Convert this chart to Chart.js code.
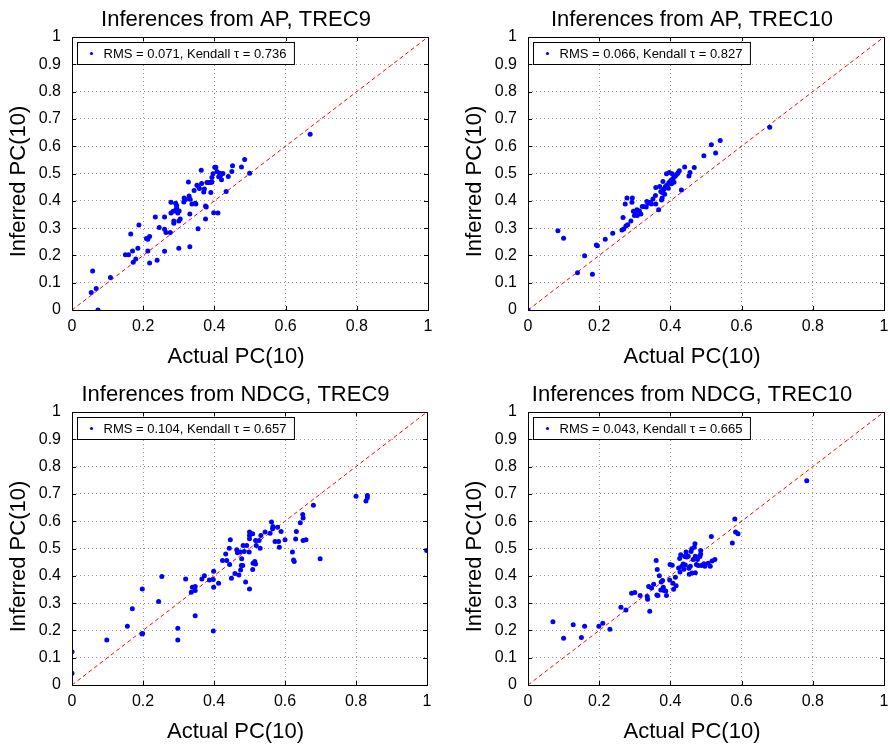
<!DOCTYPE html>
<html>
<head>
<meta charset="utf-8">
<script src="https://cdn.jsdelivr.net/npm/chart.js@4.4.0/dist/chart.umd.min.js"></script>
<style>
  body { margin: 0; background: #fff; }
  #wrap { position: relative; width: 890px; height: 745px; }
  canvas { position: absolute; }
</style>
</head>
<body>
<div id="wrap">
  <canvas id="c1" width="445" height="372" style="left:0;top:0"></canvas>
  <canvas id="c2" width="445" height="372" style="left:445px;top:0"></canvas>
  <canvas id="c3" width="445" height="373" style="left:0;top:372px"></canvas>
  <canvas id="c4" width="445" height="373" style="left:445px;top:372px"></canvas>
</div>
<script>
// textos
const titles = ['Inferences from AP, TREC9', 'Inferences from AP, TREC10', 'Inferences from NDCG, TREC9', 'Inferences from NDCG, TREC10'];
const legendLabels = ['RMS = 0.071, Kendall \u03c4 = 0.736', 'RMS = 0.066, Kendall \u03c4 = 0.827', 'RMS = 0.104, Kendall \u03c4 = 0.657', 'RMS = 0.043, Kendall \u03c4 = 0.665'];
const xTitle = 'Actual PC(10)';
const yTitle = 'Inferred PC(10)';
const xTicks = [0, 0.2, 0.4, 0.6, 0.8, 1];
const yTicks = [0, 0.1, 0.2, 0.3, 0.4, 0.5, 0.6, 0.7, 0.8, 0.9, 1];
const diagonalX = [0, 1];
const diagonalY = [0, 1];

// AP, TREC9
const apTrec9Actual = [0.058,0.054,0.068,0.073,0.108,0.150,0.159,0.165,0.170,0.172,0.179,0.185,0.188,0.209,0.213,0.218,0.213,0.218,0.234,0.239,0.245,0.260,0.260,0.260,0.264,0.276,0.278,0.278,0.284,0.286,0.286,0.289,0.291,0.294,0.294,0.297,0.301,0.300,0.304,0.300,0.314,0.315,0.319,0.327,0.329,0.331,0.332,0.331,0.337,0.343,0.346,0.348,0.354,0.351,0.355,0.358,0.363,0.364,0.370,0.372,0.375,0.377,0.375,0.379,0.384,0.390,0.390,0.393,0.393,0.396,0.398,0.401,0.404,0.407,0.410,0.412,0.415,0.417,0.420,0.424,0.433,0.439,0.449,0.451,0.476,0.485,0.499,0.669];
const apTrec9Inferred = [0.143,0.064,0.079,0.000,0.119,0.202,0.202,0.278,0.216,0.175,0.187,0.226,0.311,0.262,0.259,0.269,0.216,0.172,0.341,0.182,0.302,0.296,0.341,0.215,0.284,0.284,0.395,0.355,0.362,0.326,0.318,0.364,0.391,0.383,0.375,0.355,0.363,0.326,0.333,0.226,0.396,0.410,0.405,0.469,0.418,0.352,0.406,0.232,0.388,0.438,0.391,0.388,0.298,0.457,0.452,0.445,0.512,0.463,0.432,0.443,0.381,0.377,0.333,0.467,0.467,0.467,0.430,0.469,0.485,0.499,0.356,0.523,0.523,0.507,0.355,0.488,0.501,0.493,0.477,0.500,0.434,0.489,0.507,0.528,0.524,0.551,0.501,0.644];

// AP, TREC10
const apTrec10Actual = [0.000,0.084,0.100,0.139,0.159,0.181,0.192,0.195,0.217,0.238,0.264,0.269,0.267,0.275,0.280,0.273,0.278,0.289,0.292,0.293,0.296,0.299,0.302,0.306,0.307,0.313,0.317,0.321,0.326,0.332,0.334,0.338,0.344,0.347,0.351,0.358,0.359,0.359,0.367,0.370,0.373,0.375,0.377,0.377,0.379,0.380,0.382,0.384,0.386,0.389,0.391,0.394,0.396,0.397,0.401,0.403,0.405,0.408,0.410,0.412,0.415,0.419,0.422,0.425,0.431,0.440,0.452,0.455,0.467,0.494,0.515,0.527,0.540,0.679];
const apTrec10Inferred = [0.000,0.290,0.263,0.136,0.199,0.131,0.238,0.235,0.259,0.281,0.293,0.297,0.339,0.308,0.312,0.388,0.410,0.326,0.395,0.410,0.362,0.346,0.361,0.367,0.346,0.363,0.352,0.379,0.379,0.377,0.397,0.391,0.395,0.388,0.407,0.419,0.388,0.449,0.367,0.452,0.434,0.403,0.410,0.430,0.471,0.440,0.443,0.424,0.452,0.499,0.458,0.446,0.467,0.504,0.474,0.462,0.499,0.483,0.468,0.489,0.493,0.498,0.504,0.510,0.440,0.524,0.491,0.504,0.522,0.565,0.605,0.575,0.621,0.669];

// NDCG, TREC9
const ndcgTrec9Actual = [0.000,0.000,0.098,0.156,0.170,0.197,0.199,0.198,0.244,0.253,0.298,0.298,0.320,0.336,0.339,0.347,0.347,0.347,0.366,0.373,0.387,0.398,0.399,0.399,0.398,0.413,0.424,0.433,0.436,0.443,0.444,0.446,0.449,0.459,0.464,0.466,0.470,0.474,0.475,0.477,0.478,0.481,0.482,0.485,0.489,0.492,0.499,0.500,0.500,0.500,0.500,0.509,0.510,0.509,0.515,0.517,0.517,0.519,0.527,0.530,0.532,0.544,0.558,0.562,0.565,0.566,0.572,0.579,0.582,0.584,0.589,0.600,0.621,0.624,0.626,0.630,0.632,0.643,0.650,0.651,0.651,0.659,0.680,0.699,0.800,0.828,0.832,0.832,0.999];
const ndcgTrec9Inferred = [0.122,0.043,0.165,0.215,0.279,0.187,0.189,0.352,0.306,0.397,0.208,0.165,0.388,0.340,0.358,0.361,0.346,0.254,0.388,0.400,0.385,0.386,0.417,0.358,0.198,0.373,0.456,0.480,0.456,0.501,0.441,0.532,0.391,0.408,0.495,0.484,0.403,0.487,0.421,0.438,0.462,0.438,0.511,0.489,0.377,0.511,0.487,0.352,0.560,0.548,0.536,0.554,0.446,0.423,0.452,0.443,0.529,0.511,0.529,0.501,0.548,0.560,0.556,0.597,0.572,0.581,0.526,0.578,0.526,0.505,0.562,0.532,0.487,0.458,0.452,0.535,0.562,0.594,0.625,0.612,0.529,0.532,0.658,0.462,0.691,0.674,0.686,0.694,0.493];

// NDCG, TREC10
const ndcgTrec10Actual = [0.070,0.100,0.127,0.150,0.159,0.199,0.210,0.230,0.261,0.275,0.291,0.300,0.315,0.335,0.336,0.339,0.342,0.347,0.353,0.360,0.363,0.362,0.365,0.369,0.373,0.374,0.378,0.380,0.382,0.387,0.389,0.398,0.399,0.405,0.407,0.409,0.414,0.416,0.423,0.426,0.427,0.429,0.432,0.436,0.438,0.440,0.442,0.444,0.446,0.450,0.452,0.453,0.456,0.458,0.460,0.461,0.464,0.467,0.469,0.470,0.470,0.473,0.476,0.478,0.483,0.485,0.485,0.487,0.494,0.497,0.506,0.512,0.515,0.517,0.525,0.574,0.581,0.583,0.590,0.783];
const ndcgTrec10Inferred = [0.232,0.171,0.221,0.174,0.215,0.215,0.226,0.204,0.285,0.275,0.336,0.339,0.328,0.324,0.314,0.361,0.270,0.355,0.369,0.456,0.423,0.330,0.328,0.400,0.348,0.377,0.383,0.358,0.346,0.344,0.328,0.385,0.441,0.439,0.373,0.351,0.395,0.364,0.429,0.463,0.414,0.477,0.435,0.443,0.424,0.471,0.440,0.487,0.469,0.472,0.428,0.406,0.435,0.489,0.499,0.410,0.460,0.505,0.517,0.472,0.411,0.441,0.460,0.438,0.471,0.493,0.480,0.438,0.444,0.435,0.446,0.435,0.544,0.454,0.460,0.520,0.608,0.560,0.554,0.748];

const FONT = "'Liberation Sans', Arial, Helvetica, sans-serif";

// painéis: canvas, área do gráfico (coordenadas locais), dados
const paineis = [
  { id: 'c1', w: 445, h: 372, area: { l: 72, r: 428, t: 37, b: 310 }, xs: apTrec9Actual, ys: apTrec9Inferred },
  { id: 'c2', w: 445, h: 372, area: { l: 83, r: 439, t: 37, b: 310 }, xs: apTrec10Actual, ys: apTrec10Inferred },
  { id: 'c3', w: 445, h: 373, area: { l: 72, r: 427, t: 40, b: 313 }, xs: ndcgTrec9Actual, ys: ndcgTrec9Inferred },
  { id: 'c4', w: 445, h: 373, area: { l: 83, r: 439, t: 40, b: 313 }, xs: ndcgTrec10Actual, ys: ndcgTrec10Inferred }
];

// moldura, ticks internos, legenda e títulos (estilo MATLAB)
const decoracao = {
  id: 'decoracao',
  afterDraw(chart, args, opts) {
    const ctx = chart.ctx;
    const { left, right, top, bottom } = chart.chartArea;
    const sx = chart.scales.x, sy = chart.scales.y;
    ctx.save();
    ctx.strokeStyle = '#000';
    ctx.lineWidth = 1;
    ctx.strokeRect(Math.round(left) + 0.5, Math.round(top) + 0.5, Math.round(right - left), Math.round(bottom - top));

    ctx.beginPath();
    xTicks.forEach(v => {
      const px = Math.round(sx.getPixelForValue(v)) + 0.5;
      ctx.moveTo(px, bottom); ctx.lineTo(px, bottom - 4);
      ctx.moveTo(px, top); ctx.lineTo(px, top + 4);
    });
    yTicks.forEach(v => {
      const py = Math.round(sy.getPixelForValue(v)) + 0.5;
      ctx.moveTo(left, py); ctx.lineTo(left + 4, py);
      ctx.moveTo(right, py); ctx.lineTo(right - 4, py);
    });
    ctx.stroke();

    // legenda
    ctx.font = '13px ' + FONT;
    const tw = ctx.measureText(opts.legenda).width;
    const bx = Math.round(left) + 5.5, by = Math.round(top) + 5.5;
    ctx.fillStyle = '#fff';
    ctx.fillRect(bx, by, tw + 34, 22);
    ctx.strokeRect(bx, by, tw + 34, 22);
    ctx.fillStyle = '#0000ff';
    ctx.beginPath();
    ctx.arc(bx + 14, by + 11, 1.6, 0, Math.PI * 2);
    ctx.fill();
    ctx.fillStyle = '#000';
    ctx.textBaseline = 'middle';
    ctx.textAlign = 'left';
    ctx.fillText(opts.legenda, bx + 26, by + 11.5);

    // títulos
    const cx = (left + right) / 2 - 14;
    ctx.textBaseline = 'alphabetic';
    ctx.textAlign = 'center';
    ctx.font = '22px ' + FONT;
    ctx.fillText(opts.titulo, cx, top - 11);
    ctx.fillText(xTitle, cx, bottom + 53);
    ctx.save();
    ctx.translate(left - 47, (top + bottom) / 2 + 8);
    ctx.rotate(-Math.PI / 2);
    ctx.fillText(yTitle, 0, 0);
    ctx.restore();
    ctx.restore();
  }
};

paineis.forEach((p, i) => {
  const pontos = p.xs.map((x, k) => ({ x: x, y: p.ys[k] }));
  const diagonal = diagonalX.map((x, k) => ({ x: x, y: diagonalY[k] }));
  const corGrade = c => (c.tick && c.tick.value > 0 && c.tick.value < 1) ? '#999999' : 'rgba(0,0,0,0)';

  new Chart(document.getElementById(p.id), {
    type: 'scatter',
    data: {
      datasets: [
        { label: legendLabels[i], data: pontos, backgroundColor: '#0000ff', borderWidth: 0, pointRadius: 2.5, pointHoverRadius: 2.5 },
        { label: 'diagonal', data: diagonal, showLine: true, pointRadius: 0, borderColor: '#ff0000', borderWidth: 1, borderDash: [4, 3], fill: false }
      ]
    },
    options: {
      responsive: false,
      animation: false,
      devicePixelRatio: 1,
      events: [],
      layout: { padding: { left: 0, top: p.area.t, right: p.w - p.area.r, bottom: 0 } },
      scales: {
        x: {
          type: 'linear', min: 0, max: 1,
          afterBuildTicks: s => { s.ticks = xTicks.map(v => ({ value: v })); },
          afterFit: s => { s.height = p.h - p.area.b; s.paddingLeft = 0; s.paddingRight = 0; },
          ticks: { color: '#000', font: { family: FONT, size: 16 }, padding: 7, maxRotation: 0, callback: v => String(v) },
          grid: { color: corGrade, lineWidth: 1, drawTicks: false },
          border: { display: false, dash: [1, 3] }
        },
        y: {
          type: 'linear', min: 0, max: 1,
          afterBuildTicks: s => { s.ticks = yTicks.map(v => ({ value: v })); },
          afterFit: s => { s.width = p.area.l; s.paddingTop = 0; s.paddingBottom = 0; },
          ticks: { color: '#000', font: { family: FONT, size: 16 }, padding: 11, callback: v => String(v) },
          grid: { color: corGrade, lineWidth: 1, drawTicks: false },
          border: { display: false, dash: [1, 3] }
        }
      },
      plugins: {
        legend: { display: false },
        tooltip: { enabled: false },
        decoracao: { titulo: titles[i], legenda: legendLabels[i] }
      }
    },
    plugins: [decoracao]
  });
});
</script>
</body>
</html>
